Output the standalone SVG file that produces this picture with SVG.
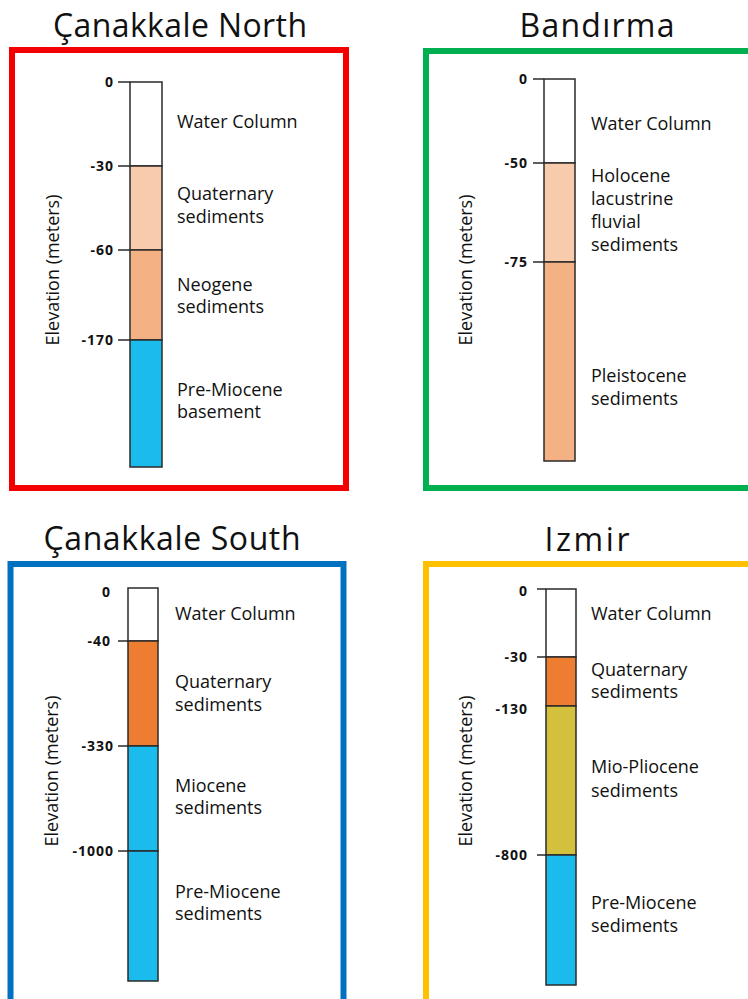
<svg xmlns="http://www.w3.org/2000/svg" width="748" height="999" viewBox="0 0 748 999">
<style>
.title{font-family:"Open Sans","Liberation Sans",sans-serif;font-size:32px;fill:#111;text-anchor:middle}
.lbl{font-family:"Open Sans","Liberation Sans",sans-serif;font-size:18px;fill:#111}
.tick{font-family:"Open Sans","Liberation Sans",sans-serif;font-size:14px;font-weight:bold;fill:#111;text-anchor:end;letter-spacing:1px}
.ax{font-family:"Open Sans","Liberation Sans",sans-serif;font-size:18px;fill:#111;text-anchor:middle}
.frame{fill:none;stroke-width:6}
.col{stroke:#2a2a2a;stroke-width:1.5}
.tk{stroke:#2a2a2a;stroke-width:1.5}
</style>
<rect width="748" height="999" fill="#fff"/>

<g id="canakkale-north">
<text class="title" x="180" y="37" textLength="254">Çanakkale North</text>
<rect class="frame" x="12" y="50" width="334" height="438" stroke="#F40000"/>
<rect class="col" x="130" y="82" width="32" height="84" fill="#fff"/>
<rect class="col" x="130" y="166" width="32" height="84" fill="#F8CBAD"/>
<rect class="col" x="130" y="250" width="32" height="90" fill="#F4B183"/>
<rect class="col" x="130" y="340" width="32" height="127" fill="#1CBBEE"/>
<line class="tk" x1="118" y1="82" x2="130" y2="82"/>
<line class="tk" x1="118" y1="166" x2="130" y2="166"/>
<line class="tk" x1="118" y1="250" x2="130" y2="250"/>
<line class="tk" x1="118" y1="340" x2="130" y2="340"/>
<text class="tick" x="114" y="87">0</text>
<text class="tick" x="114" y="171">-30</text>
<text class="tick" x="114" y="255">-60</text>
<text class="tick" x="114" y="345">-170</text>
<text class="ax" transform="translate(59,270) rotate(-90)">Elevation (meters)</text>
<text class="lbl" x="177" y="128">Water Column</text>
<text class="lbl" x="177" y="200">Quaternary</text>
<text class="lbl" x="177" y="223">sediments</text>
<text class="lbl" x="177" y="291">Neogene</text>
<text class="lbl" x="177" y="313">sediments</text>
<text class="lbl" x="177" y="396">Pre-Miocene</text>
<text class="lbl" x="177" y="418">basement</text>
</g>

<g id="bandirma">
<text class="title" x="597" y="37" textLength="155">Bandırma</text>
<rect class="frame" x="426" y="51" width="340" height="437" stroke="#00B050"/>
<rect class="col" x="544" y="79" width="31" height="84" fill="#fff"/>
<rect class="col" x="544" y="163" width="31" height="99" fill="#F8CBAD"/>
<rect class="col" x="544" y="262" width="31" height="199" fill="#F4B183"/>
<line class="tk" x1="533" y1="79" x2="544" y2="79"/>
<line class="tk" x1="533" y1="163" x2="544" y2="163"/>
<line class="tk" x1="533" y1="262" x2="544" y2="262" stroke="#777"/>
<text class="tick" x="528" y="84">0</text>
<text class="tick" x="528" y="168">-50</text>
<text class="tick" x="528" y="267">-75</text>
<text class="ax" transform="translate(472,270) rotate(-90)">Elevation (meters)</text>
<text class="lbl" x="591" y="130">Water Column</text>
<text class="lbl" x="591" y="182">Holocene</text>
<text class="lbl" x="591" y="205">lacustrine</text>
<text class="lbl" x="591" y="228">fluvial</text>
<text class="lbl" x="591" y="251">sediments</text>
<text class="lbl" x="591" y="382">Pleistocene</text>
<text class="lbl" x="591" y="405">sediments</text>
</g>

<g id="canakkale-south">
<text class="title" x="172" y="550" textLength="257">Çanakkale South</text>
<rect class="frame" x="10.5" y="564" width="333" height="450" stroke="#0070C0"/>
<rect class="col" x="128" y="588" width="30" height="53" fill="#fff"/>
<rect class="col" x="128" y="641" width="30" height="105" fill="#ED7D31"/>
<rect class="col" x="128" y="746" width="30" height="105" fill="#1CBBEE"/>
<rect class="col" x="128" y="851" width="30" height="130" fill="#1CBBEE"/>
<line class="tk" x1="118" y1="641" x2="128" y2="641"/>
<line class="tk" x1="118" y1="746" x2="128" y2="746"/>
<line class="tk" x1="118" y1="851" x2="128" y2="851"/>
<text class="tick" x="111" y="597">0</text>
<text class="tick" x="111" y="646">-40</text>
<text class="tick" x="114" y="751">-330</text>
<text class="tick" x="114" y="856">-1000</text>
<text class="ax" transform="translate(58,771) rotate(-90)">Elevation (meters)</text>
<text class="lbl" x="175" y="620">Water Column</text>
<text class="lbl" x="175" y="688">Quaternary</text>
<text class="lbl" x="175" y="711">sediments</text>
<text class="lbl" x="175" y="792">Miocene</text>
<text class="lbl" x="175" y="814">sediments</text>
<text class="lbl" x="175" y="898">Pre-Miocene</text>
<text class="lbl" x="175" y="920">sediments</text>
</g>

<g id="izmir">
<text class="title" x="587" y="551" textLength="85">Izmir</text>
<rect class="frame" x="426" y="564" width="340" height="450" stroke="#FFC000"/>
<rect class="col" x="546" y="589" width="30" height="68" fill="#fff" stroke="#777"/>
<rect class="col" x="546" y="657" width="30" height="49" fill="#ED7D31"/>
<rect class="col" x="546" y="706" width="30" height="149" fill="#D3C13E"/>
<rect class="col" x="546" y="855" width="30" height="130" fill="#1CBBEE"/>
<line class="tk" x1="537" y1="589" x2="546" y2="589"/>
<line class="tk" x1="537" y1="657" x2="546" y2="657"/>
<line class="tk" x1="537" y1="855" x2="546" y2="855"/>
<text class="tick" x="528" y="596">0</text>
<text class="tick" x="528" y="662">-30</text>
<text class="tick" x="528" y="714">-130</text>
<text class="tick" x="528" y="860">-800</text>
<text class="ax" transform="translate(472,771) rotate(-90)">Elevation (meters)</text>
<text class="lbl" x="591" y="620">Water Column</text>
<text class="lbl" x="591" y="676">Quaternary</text>
<text class="lbl" x="591" y="698">sediments</text>
<text class="lbl" x="591" y="773">Mio-Pliocene</text>
<text class="lbl" x="591" y="797">sediments</text>
<text class="lbl" x="591" y="909">Pre-Miocene</text>
<text class="lbl" x="591" y="932">sediments</text>
</g>
</svg>
